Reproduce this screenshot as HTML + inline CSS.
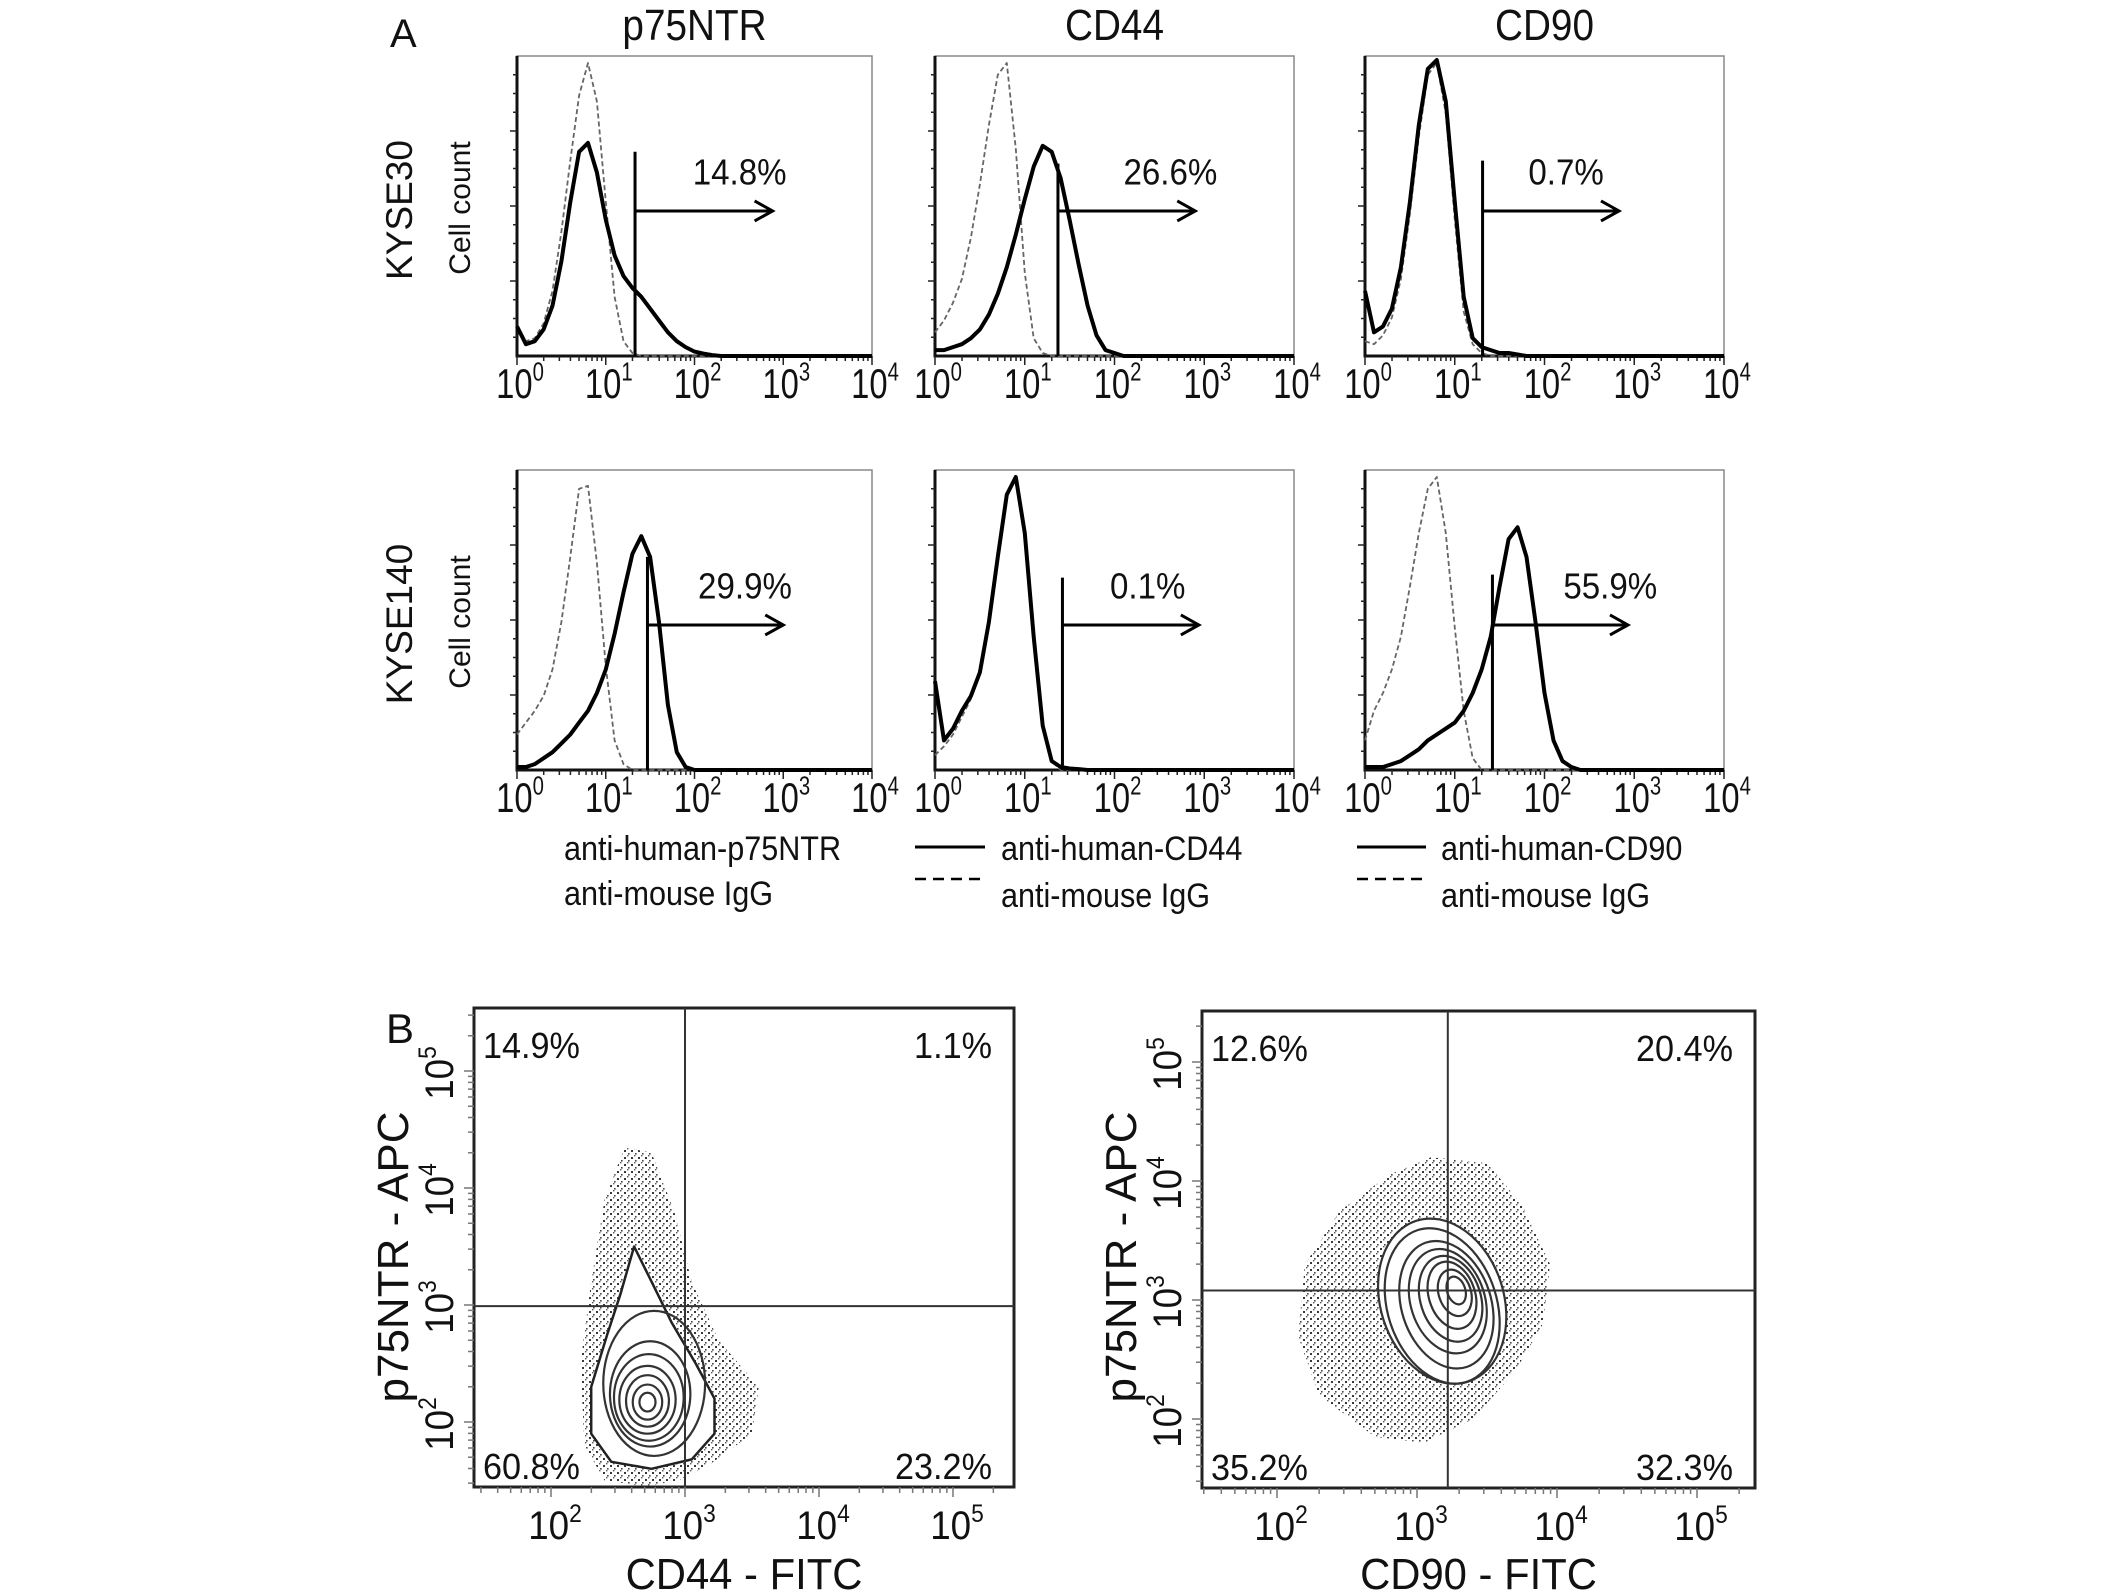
<!DOCTYPE html>
<html><head><meta charset="utf-8"><title>Flow cytometry figure</title>
<style>
html,body{margin:0;padding:0;background:#fff;}
svg{display:block;font-family:"Liberation Sans",Arial,sans-serif;}
</style></head>
<body>
<svg id="fig" width="2126" height="1595" viewBox="0 0 2126 1595" xmlns="http://www.w3.org/2000/svg">
<defs>
<pattern id="dots" width="7" height="7" patternUnits="userSpaceOnUse">
<rect x="1" y="2" width="2" height="2" fill="#222"/>
<rect x="5" y="5" width="1.6" height="1.6" fill="#333"/>
<rect x="4" y="0" width="1.4" height="1.4" fill="#444"/>
</pattern>
</defs>
<g id="root"></g>
</svg>
<script>
// ---------- Panel A histogram data (cell count fraction, bins at log10 = 0,0.1,0.2,...) ----------
const histTitles = ["p75NTR","CD44","CD90"];
const rowLabels = ["KYSE30","KYSE140"];
const r1c1Solid = [0.10,0.04,0.05,0.09,0.17,0.32,0.52,0.69,0.72,0.62,0.46,0.34,0.27,0.23,0.20,0.16,0.12,0.08,0.05,0.03,0.015,0.008,0.003,0];
const r1c1Iso   = [0.10,0.05,0.06,0.11,0.22,0.42,0.66,0.88,0.99,0.86,0.52,0.20,0.05,0.01,0];
const r1c2Solid = [0.02,0.02,0.03,0.04,0.06,0.09,0.14,0.21,0.30,0.41,0.53,0.64,0.71,0.69,0.60,0.46,0.31,0.17,0.07,0.02,0.01,0];
const r1c2Iso   = [0.08,0.12,0.18,0.26,0.40,0.58,0.78,0.95,0.99,0.70,0.28,0.06,0.01,0];
const r1c3Solid = [0.22,0.08,0.10,0.16,0.30,0.52,0.78,0.97,1.00,0.86,0.52,0.20,0.06,0.03,0.02,0.01,0.01,0.005,0];
const r1c3Iso   = [0.05,0.04,0.07,0.13,0.26,0.48,0.74,0.95,0.99,0.82,0.46,0.15,0.04,0.01,0];
const r2c1Solid = [0.01,0.01,0.02,0.04,0.06,0.09,0.12,0.16,0.20,0.26,0.34,0.46,0.60,0.73,0.79,0.72,0.50,0.22,0.06,0.01,0];
const r2c1Iso   = [0.12,0.16,0.20,0.25,0.34,0.50,0.72,0.95,0.96,0.70,0.35,0.10,0.02,0];
const r2c2Solid = [0.30,0.10,0.14,0.20,0.25,0.33,0.50,0.72,0.93,0.99,0.80,0.45,0.15,0.03,0.01,0.005,0.003,0];
const r2c2Iso   = [0.05,0.08,0.12,0.18,0.24,0.33,0.50,0.72,0.93,0.99,0.80,0.45,0.15,0.03,0];
const r2c3Solid = [0.01,0.01,0.01,0.02,0.03,0.05,0.07,0.10,0.12,0.14,0.16,0.20,0.26,0.34,0.45,0.62,0.78,0.82,0.72,0.50,0.26,0.10,0.03,0.01,0];
const r2c3Iso   = [0.10,0.20,0.26,0.34,0.45,0.62,0.80,0.95,0.99,0.80,0.48,0.20,0.04,0];
const gateLogs  = [1.33,1.37,1.31,1.47,1.42,1.42];
const gatePcts  = ["14.8%","26.6%","0.7%","29.9%","0.1%","55.9%"];
const labelLogs = [1.98,2.10,1.82,2.04,1.95,2.21];
const arrowEndLogs = [2.88,2.90,2.83,3.0,2.94,2.93];
const histTickLabels = ["0","1","2","3","4"];

// ---------- Panel B data ----------
const bTickExps = ["2","3","4","5"];
const b1Quads = ["14.9%","1.1%","60.8%","23.2%"];
const b2Quads = ["12.6%","20.4%","35.2%","32.3%"];
const b1GateX = 3.0, b1GateY = 2.99;
const b2GateX = 3.22, b2GateY = 3.08;
// B1 contour rings (log units)
const b1RingCx = [2.72,2.72,2.72,2.72,2.73,2.74,2.77];
const b1RingCy = [2.17,2.17,2.18,2.19,2.21,2.24,2.33];
const b1RingRx = [0.06,0.11,0.16,0.21,0.26,0.30,0.38];
const b1RingRy = [0.08,0.15,0.22,0.29,0.37,0.45,0.62];
const b1TearX = [2.62,2.75,2.9,3.08,3.22,3.22,3.05,2.75,2.45,2.3,2.3,2.42,2.52,2.62];
const b1TearY = [3.5,3.2,2.85,2.5,2.2,1.9,1.68,1.6,1.66,1.9,2.3,2.75,3.1,3.5];
const b1CloudX = [2.55,2.75,2.92,3.05,3.25,3.55,3.5,3.2,2.95,2.7,2.4,2.25,2.22,2.3,2.4];
const b1CloudY = [4.35,4.3,3.8,3.2,2.7,2.3,1.9,1.65,1.5,1.45,1.5,1.8,2.5,3.2,3.9];
// B2 contour rings (log units)
const b2RingCx = [3.28,3.27,3.25,3.24,3.22,3.21,3.18,3.18];
const b2RingCy = [3.08,3.06,3.04,3.01,2.99,2.96,2.95,2.99];
const b2RingRx = [0.065,0.115,0.165,0.215,0.265,0.32,0.39,0.44];
const b2RingRy = [0.12,0.20,0.29,0.37,0.45,0.55,0.67,0.71];
const b2CloudX = [3.1,3.5,3.75,3.95,3.9,3.7,3.4,3.05,2.7,2.3,2.15,2.2,2.45,2.8];
const b2CloudY = [4.2,4.15,3.8,3.3,2.8,2.4,2.0,1.8,1.85,2.2,2.7,3.3,3.75,4.05];

const NS = "http://www.w3.org/2000/svg";
const root = document.getElementById("root");
function mk(tag, attrs, parent){
  const e = document.createElementNS(NS, tag);
  for (const k in attrs) e.setAttribute(k, attrs[k]);
  (parent||root).appendChild(e);
  return e;
}
function txt(str, x, y, size, anchor, parent, sx){
  const t = mk("text", {x:0, y:0, "font-size":size, "text-anchor":anchor||"start", fill:"#111",
    transform:`translate(${x},${y}) scale(${sx||1},1)`}, parent);
  t.textContent = str;
  return t;
}
function pow10(x, y, exp, size, parent, sx, rot){
  const g = mk("g", {transform:`translate(${x},${y}) rotate(${rot||0}) scale(${sx||1},1)`}, parent);
  const t = mk("text", {x:0, y:0, "font-size":size, "text-anchor":"middle", fill:"#111"}, g);
  t.appendChild(document.createTextNode("10"));
  const s = mk("tspan", {"font-size":size*0.62, dy:-size*0.42}, t);
  s.textContent = exp;
  return g;
}

// ---------- Panel A ----------
const colX = [[517,872],[935,1294],[1365,1724]];
const rowY = [[56,356],[470,770]];
const hData = [[r1c1Solid,r1c1Iso],[r1c2Solid,r1c2Iso],[r1c3Solid,r1c3Iso],[r2c1Solid,r2c1Iso],[r2c2Solid,r2c2Iso],[r2c3Solid,r2c3Iso]];

const panelA = mk("g", {});


const labA = txt("A", 390, 47, 40, "start", panelA);



histTitles.forEach((t,i)=>{
  const c = (colX[i][0]+colX[i][1])/2;
  const e = txt(t, c, 40, 44, "middle", panelA, 0.88);
  
  
});
rowLabels.forEach((t,r)=>{
  const cy = (rowY[r][0]+rowY[r][1])/2 + 4;
  const g = mk("g", {transform:`translate(412,${cy}) rotate(-90)`}, panelA);
  
  
  const a = mk("text", {x:0,y:0,"font-size":37,"text-anchor":"middle",fill:"#111"}, g);
  a.textContent = t;
  const g2 = mk("g", {transform:`translate(470,${cy-2}) rotate(-90)`}, panelA);
  
  
  const b = mk("text", {x:0,y:0,"font-size":30,"text-anchor":"middle",fill:"#111"}, g2);
  b.textContent = "Cell count";
});

for (let r=0;r<2;r++){
  for (let c=0;c<3;c++){
    const idx = r*3+c;
    const x0=colX[c][0], x1=colX[c][1], y0=rowY[r][0], y1=rowY[r][1];
    const xs = v => x0 + v/4*(x1-x0);
    const ys = f => y1 - f*(y1-y0-4);
    const g = mk("g", {}, panelA);
    
    
    const fr = mk("rect", {x:x0,y:y0,width:x1-x0,height:y1-y0,fill:"none",stroke:"#888","stroke-width":1.5}, g);
    
    
    const ax = mk("path", {d:`M${x0},${y0} L${x0},${y1} L${x1},${y1}`, fill:"none", stroke:"#111","stroke-width":3}, g);
    
    
    let d="";
    for (let k=1;k<16;k++){ const yy=y1-k*(y1-y0)/16; d+=`M${x0},${yy} L${x0-(k%4==0?7:4)},${yy} `; }
    for (let dec=0; dec<4; dec++){
      for (let m=1;m<10;m++){
        const v = dec + Math.log10(m);
        const xx = xs(v);
        d+=`M${xx},${y1} L${xx},${y1+(m==1?9:5)} `;
      }
    }
    d+=`M${xs(4)},${y1} L${xs(4)},${y1+9}`;
    const tk = mk("path",{d, stroke:"#222","stroke-width":1.5, fill:"none"}, g);
    
    
    histTickLabels.forEach((e,i)=>{
      const lab = pow10(xs(i)+3, y1+42, e, 42, g, 0.78);
      
      
    });
    const [sol, iso] = hData[idx];
    const pathFor = arr => {
      let p = "";
      for (let i=0;i<=40;i++){
        const v = i < arr.length ? arr[i] : 0;
        p += (i? " L":"M") + xs(i*0.1).toFixed(1) + "," + ys(v).toFixed(1);
      }
      return p;
    };
    const isoP = mk("path", {d:pathFor(iso), fill:"none", stroke:"#666","stroke-width":1.8,"stroke-dasharray":"5,3","stroke-linejoin":"round"}, g);
    
    
    const solP = mk("path", {d:pathFor(sol), fill:"none", stroke:"#000","stroke-width":4,"stroke-linejoin":"round"}, g);
    
    
    const gx = xs(gateLogs[idx]);
    const gTop = ys(r==0 ? [0.69,0.65,0.66][c] : [0.72,0.65,0.66][c]);
    const ay = ys(0.49);
    const gate = mk("path", {d:`M${gx},${y1} L${gx},${gTop} M${gx},${ay} L${xs(arrowEndLogs[idx])},${ay} M${xs(arrowEndLogs[idx])-18},${ay-10} L${xs(arrowEndLogs[idx])},${ay} L${xs(arrowEndLogs[idx])-18},${ay+10}`, fill:"none", stroke:"#000","stroke-width":3}, g);
    
    
    const pl = txt(gatePcts[idx], xs(labelLogs[idx]), ys(0.58), 36, "start", g, 0.92);
    
    
  }
}

// Legend
const legend = mk("g", {}, panelA);


const legTxt = [["anti-human-p75NTR",564,860],["anti-mouse  IgG",564,905],["anti-human-CD44",1001,860],["anti-mouse  IgG",1001,907],["anti-human-CD90",1441,860],["anti-mouse  IgG",1441,907]];
legTxt.forEach(([s,x,y])=>{
  const e = txt(s, x, y, 34, "start", legend, 0.9);
  
  
  e.setAttribute("xml:space","preserve");
});
[[915,985],[1357,1426]].forEach(([a,b])=>{
  const s = mk("line",{x1:a,x2:b,y1:847,y2:847,stroke:"#000","stroke-width":3}, legend);
  
  
  const dd = mk("line",{x1:a,x2:b,y1:879,y2:879,stroke:"#000","stroke-width":2.5,"stroke-dasharray":"11,7"}, legend);
  
  
});

// ---------- Panel B ----------
const panelB = mk("g", {});


const labB = txt("B", 386, 1043, 42, "start", panelB);



function dotPlot(cfg){
  const {x0,x1,y0,y1,xAt2,xDec,yAt3,yDec,gateX,gateY,quads,xTitle,ringCx,ringCy,ringRx,ringRy,tilt,cloudX,cloudY,name} = cfg;
  const xs = v => xAt2 + (v-2)*xDec;
  const ys = v => yAt3 - (v-3)*yDec;
  const g = mk("g", {}, panelB);
  
  
  let cp = "";
  cloudX.forEach((v,i)=>{ cp += (i?" L":"M") + xs(v).toFixed(1)+","+ys(cloudY[i]).toFixed(1); });
  const cl = mk("path",{d:cp+" Z", fill:"url(#dots)", opacity:0.9, stroke:"none"}, g);
  
  
  if (cfg.tearX){
    let tp="";
    cfg.tearX.forEach((v,i)=>{ tp += (i?" L":"M") + xs(v).toFixed(1)+","+ys(cfg.tearY[i]).toFixed(1); });
    const tr = mk("path",{d:tp+" Z", fill:"#fff", stroke:"#222","stroke-width":2.5,"stroke-linejoin":"round"}, g);
    
    
  }
  for (let i=ringCx.length-1;i>=0;i--){
    const cx = xs(ringCx[i]), cy = ys(ringCy[i]);
    const el = mk("ellipse",{cx, cy, rx:ringRx[i]*xDec, ry:ringRy[i]*yDec, fill: (i==ringCx.length-1 && !cfg.tearX) ? "#fff":"none", stroke:"#333","stroke-width":2.2, transform:`rotate(${tilt},${cx},${cy})`}, g);
    
    
  }
  const fr = mk("rect",{x:x0,y:y0,width:x1-x0,height:y1-y0,fill:"none",stroke:"#222","stroke-width":3}, g);
  
  
  const q = mk("path",{d:`M${xs(gateX)},${y0} L${xs(gateX)},${y1} M${x0},${ys(gateY)} L${x1},${ys(gateY)}`, stroke:"#333","stroke-width":2, fill:"none"}, g);
  
  
  let d="";
  for (let dec=1; dec<6; dec++){
    for (let m=1;m<10;m++){
      const v = dec + Math.log10(m);
      const xx = xs(v), yy = ys(v);
      if (xx>x0 && xx<x1) d+=`M${xx},${y1} L${xx},${y1+(m==1?10:6)} `;
      if (yy>y0 && yy<y1) d+=`M${x0},${yy} L${x0-(m==1?10:6)},${yy} `;
    }
  }
  const tk = mk("path",{d, stroke:"#777","stroke-width":1.5, fill:"none"}, g);
  
  
  bTickExps.forEach(e=>{
    const v = +e;
    const xl = pow10(xs(v)+4, y1+52, e, 40, g, 0.92);
    
    
    const yl = pow10(x0-21, ys(v)+2, e, 40, g, 0.92, -90);
    
    
  });
  const xt = txt(xTitle, (x0+x1)/2, 1589, 44, "middle", g, 0.95);
  
  
  const yg = mk("g",{transform:`translate(${x0-66},1257) rotate(-90)`}, g);
  
  
  const yt = mk("text",{x:0,y:0,"font-size":44,"text-anchor":"middle",fill:"#111"}, yg);
  yt.textContent = "p75NTR - APC";
  const pos = [[x0+9,y0+50,"start"],[x1-22,y0+50,"end"],[x0+9,y1-8,"start"],[x1-22,y1-8,"end"]];
  quads.forEach((s,i)=>{
    const e = txt(s, pos[i][0], pos[i][1], 36, pos[i][2], g, 0.95);
    
    
  });
}
dotPlot({name:"dot-plot-cd44-p75ntr", x0:474,x1:1014,y0:1008,y1:1487,xAt2:551,xDec:134,yAt3:1305,yDec:117,
  gateX:b1GateX,gateY:b1GateY,quads:b1Quads,xTitle:"CD44 - FITC",
  ringCx:b1RingCx,ringCy:b1RingCy,ringRx:b1RingRx,ringRy:b1RingRy,tilt:0,
  cloudX:b1CloudX,cloudY:b1CloudY,tearX:b1TearX,tearY:b1TearY});
dotPlot({name:"dot-plot-cd90-p75ntr", x0:1202,x1:1755,y0:1011,y1:1488,xAt2:1277,xDec:140,yAt3:1300,yDec:119,
  gateX:b2GateX,gateY:b2GateY,quads:b2Quads,xTitle:"CD90 - FITC",
  ringCx:b2RingCx,ringCy:b2RingCy,ringRx:b2RingRx,ringRy:b2RingRy,tilt:-18,
  cloudX:b2CloudX,cloudY:b2CloudY});
</script>
</body></html>
